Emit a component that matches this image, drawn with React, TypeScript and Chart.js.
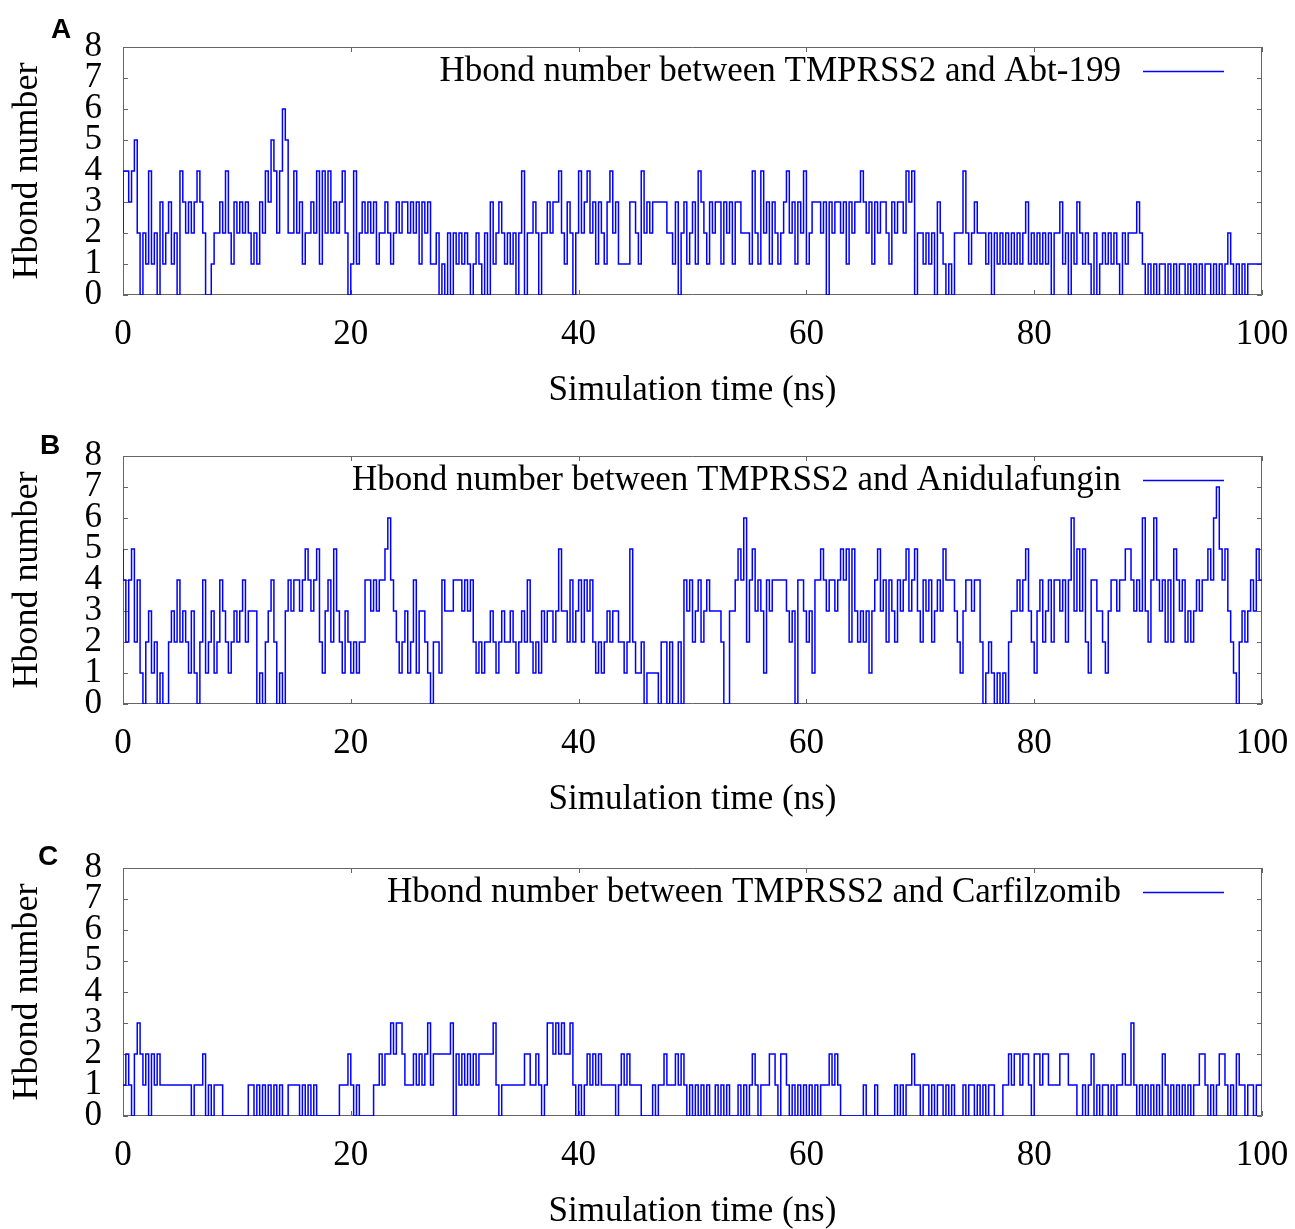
import React, { useEffect, useRef } from 'react';
import { Chart, registerables } from 'chart.js';

Chart.register(...registerables);

// ---------------- data ----------------
const SAMPLE_STEP_NS = 0.25; // sampling interval of the series below (ns)
const X_TICK_STEP = 20;
const Y_TICK_STEP = 1;
const X_RANGE = [0, 100];
const Y_RANGE = [0, 8];

const SERIES_LABELS = [
  'Hbond number between TMPRSS2 and Abt-199',
  'Hbond number between TMPRSS2 and Anidulafungin',
  'Hbond number between TMPRSS2 and Carfilzomib',
];
const PANEL_LETTERS = ['A', 'B', 'C'];
const X_TITLE = 'Simulation time (ns)';
const Y_TITLE = 'Hbond number';

const HBOND_ABT199 = [
  2,4,4,3,4,5,2,0,2,1,4,1,2,0,3,1,2,3,1,2,
  0,4,3,2,3,2,3,4,3,2,0,0,1,2,2,3,2,4,2,1,
  3,2,3,2,3,2,1,2,1,3,2,4,3,5,4,2,4,6,5,2,
  2,4,2,3,1,2,2,3,2,4,1,4,2,4,2,3,2,3,4,2,
  0,1,4,1,2,3,2,3,2,3,1,2,2,3,2,1,2,3,2,3,
  3,2,3,2,3,1,3,2,3,1,1,2,0,1,0,2,0,2,1,2,
  1,2,1,0,1,2,1,0,2,0,3,1,2,3,2,1,2,1,2,0,
  2,4,0,2,2,3,2,0,2,2,3,2,3,3,4,2,1,3,2,0,
  2,4,2,3,4,2,3,1,3,2,1,3,4,2,3,1,1,1,1,3,
  3,2,1,4,2,3,2,3,3,3,3,3,2,2,1,3,0,2,3,1,
  2,3,1,4,3,2,1,3,2,3,3,1,3,2,3,1,3,3,2,2,
  2,1,4,2,1,4,2,3,1,3,2,1,2,3,4,2,3,1,3,2,
  4,1,2,3,3,3,2,3,0,3,2,3,3,2,3,1,3,2,3,3,
  4,3,2,3,1,3,2,3,3,2,1,3,2,3,3,2,4,3,4,0,
  2,2,1,2,1,2,0,3,2,1,0,1,0,2,2,2,4,2,1,2,
  3,2,2,2,1,2,0,2,1,2,1,2,1,2,1,2,1,2,3,1,
  2,1,2,1,2,1,2,0,2,2,3,1,2,0,2,1,3,2,1,2,
  1,0,2,0,1,2,1,2,1,2,1,0,2,1,2,2,2,3,2,1,
  0,1,0,1,0,1,1,0,1,0,1,0,1,1,0,1,0,1,0,1,
  0,1,1,0,1,0,1,0,1,2,1,0,1,0,1,0,1,1,1,1,
  1,
];

const HBOND_ANIDULAFUNGIN = [
  5,4,2,4,5,2,4,1,0,2,3,1,2,0,1,0,0,2,3,2,
  4,2,3,2,1,3,1,0,2,4,1,2,3,1,2,4,3,2,1,2,
  3,2,3,4,2,3,3,3,0,1,0,2,3,4,2,0,1,0,3,4,
  3,4,4,3,4,5,4,3,4,5,2,1,3,4,2,5,3,2,1,3,
  2,1,2,1,2,2,4,4,3,4,3,4,4,5,6,4,3,2,1,2,
  3,1,2,4,1,3,3,2,1,0,2,2,1,4,3,3,3,4,4,4,
  3,4,3,4,2,1,2,1,2,2,3,2,1,2,3,2,2,3,2,1,
  2,3,2,4,2,1,2,1,3,2,3,3,2,3,5,3,3,2,4,2,
  3,4,2,4,3,4,2,1,2,1,2,3,2,3,3,2,2,1,2,5,
  2,1,1,2,0,1,1,1,1,0,2,2,0,2,0,0,2,0,4,3,
  4,2,3,4,2,3,4,3,3,3,3,2,0,0,3,3,4,5,4,6,
  2,4,5,3,4,3,1,4,3,4,4,4,4,4,3,2,3,0,4,4,
  3,2,3,1,4,4,5,4,3,4,4,3,4,5,4,5,2,5,3,2,
  3,2,3,1,3,4,5,3,4,2,4,3,2,4,3,4,5,3,4,5,
  3,2,4,3,4,2,3,4,3,5,4,4,4,3,2,1,3,4,4,3,
  4,4,2,0,1,2,1,0,1,0,1,0,2,3,3,4,3,4,5,3,
  2,1,3,4,2,3,4,2,4,4,3,4,2,4,6,3,5,3,5,2,
  1,4,4,3,3,2,1,3,4,4,3,4,4,5,5,4,3,4,3,6,
  3,2,4,6,4,3,4,2,4,2,5,4,3,4,2,3,2,3,4,3,
  4,4,5,4,6,7,5,4,5,3,2,1,0,2,3,2,3,4,3,5,
  4,
];

const HBOND_CARFILZOMIB = [
  1,1,2,1,0,2,3,2,1,2,0,2,1,2,1,1,1,1,1,1,
  1,1,1,1,1,0,1,1,1,2,0,1,0,1,1,1,0,0,0,0,
  0,0,0,0,0,1,1,0,1,0,1,0,1,0,1,0,1,0,0,1,
  1,1,1,0,1,0,1,0,1,0,0,0,0,0,0,0,0,1,1,1,
  2,1,0,1,0,0,0,0,0,1,1,2,1,2,2,3,2,3,3,2,
  1,1,1,2,1,2,1,2,3,1,2,2,2,2,2,2,3,0,2,1,
  2,1,2,1,2,1,2,2,2,2,2,3,1,0,1,1,1,1,1,1,
  1,1,2,2,1,1,2,1,0,1,3,3,2,3,2,3,2,2,3,1,
  0,1,0,1,2,1,2,1,2,1,1,1,1,1,0,1,2,1,2,1,
  1,1,1,0,0,0,0,1,0,1,1,2,1,1,1,2,1,2,1,0,
  1,0,1,0,1,0,1,0,0,1,0,1,0,1,0,0,0,1,0,1,
  0,1,2,1,0,1,1,1,2,2,1,0,2,2,1,0,1,0,1,0,
  1,0,1,0,1,0,1,1,1,2,1,2,1,0,0,0,0,0,0,0,
  0,1,0,0,0,1,0,0,0,0,0,0,1,0,1,0,1,1,2,1,
  1,0,1,1,0,1,0,1,1,0,1,0,1,0,0,0,1,0,1,1,
  0,1,0,1,0,1,1,0,0,0,1,1,2,1,2,2,1,2,2,1,
  0,2,2,1,2,2,1,1,1,1,2,2,2,1,1,1,0,0,1,0,
  1,2,0,1,0,1,1,0,1,0,1,1,2,1,1,3,1,0,1,0,
  1,0,1,0,1,0,2,1,0,1,0,1,0,1,0,1,0,1,1,2,
  2,1,0,1,0,1,2,2,1,0,1,0,2,1,1,0,1,1,0,1,
  1,
];

const SERIES_VALUES = [HBOND_ABT199, HBOND_ANIDULAFUNGIN, HBOND_CARFILZOMIB];

// ---------------- layout / style ----------------
const SERIF = "'Liberation Serif', 'Times New Roman', Times, serif";
const FONT_SIZE = 35;
const CANVAS_W = 1295;
const CANVAS_H = 412;
const PANEL_TOPS = [0, 409, 821];
const LETTER_POS = [
  { left: 51, top: 15 },
  { left: 40, top: 431 },
  { left: 38, top: 842 },
];
const LINE_COLOR = '#0000ff';
const FRAME_COLOR = '#666666';
const TICK_LEN = 5;

const framePlugin = {
  id: 'gnuFrame',
  beforeDatasetsDraw(chart: any) {
    const { ctx, chartArea } = chart;
    const { left, right, top, bottom } = chartArea;
    const xs = chart.scales.x;
    const ys = chart.scales.y;
    ctx.save();
    ctx.strokeStyle = FRAME_COLOR;
    ctx.lineWidth = 1;
    ctx.beginPath();
    ctx.rect(Math.round(left) + 0.5, Math.round(top) + 0.5, Math.round(right - left) - 1, Math.round(bottom - top) - 1);
    ctx.stroke();
    ctx.beginPath();
    xs.ticks.forEach((t: any) => {
      const px = Math.round(xs.getPixelForValue(t.value)) + 0.5;
      ctx.moveTo(px, bottom);
      ctx.lineTo(px, bottom - TICK_LEN);
      ctx.moveTo(px, top);
      ctx.lineTo(px, top + TICK_LEN);
    });
    ys.ticks.forEach((t: any) => {
      const py = Math.round(ys.getPixelForValue(t.value)) + 0.5;
      ctx.moveTo(left, py);
      ctx.lineTo(left + TICK_LEN, py);
      ctx.moveTo(right, py);
      ctx.lineTo(right - TICK_LEN, py);
    });
    ctx.stroke();
    ctx.restore();
  },
  afterDatasetsDraw(chart: any) {
    const { ctx, chartArea } = chart;
    const ds = chart.data.datasets[0];
    const y = chartArea.top + 25;
    ctx.save();
    ctx.font = `${FONT_SIZE}px ${SERIF}`;
    ctx.fillStyle = '#000';
    ctx.textAlign = 'right';
    ctx.textBaseline = 'middle';
    ctx.fillText(ds.label, chartArea.right - 141, y);
    ctx.strokeStyle = ds.borderColor;
    ctx.lineWidth = 1.3;
    ctx.beginPath();
    ctx.moveTo(chartArea.right - 119, Math.round(y) - 0.5);
    ctx.lineTo(chartArea.right - 38, Math.round(y) - 0.5);
    ctx.stroke();
    ctx.restore();
  },
};

function Panel({ index }: { index: number }) {
  const ref = useRef<HTMLCanvasElement | null>(null);
  useEffect(() => {
    if (!ref.current) return;
    const values = SERIES_VALUES[index];
    const points = values.map((v, i) => ({ x: i * SAMPLE_STEP_NS, y: v }));
    const font = { family: SERIF, size: FONT_SIZE };
    const chart = new Chart(ref.current, {
      type: 'line',
      data: {
        datasets: [
          {
            label: SERIES_LABELS[index],
            data: points,
            stepped: 'after',
            borderColor: LINE_COLOR,
            borderWidth: 1.5,
            pointRadius: 0,
            fill: false,
          },
        ],
      },
      options: {
        animation: false,
        responsive: false,
        maintainAspectRatio: false,
        events: [],
        layout: { padding: { top: 47, right: 33, left: 0, bottom: 0 } },
        plugins: { legend: { display: false }, tooltip: { enabled: false } },
        scales: {
          x: {
            type: 'linear',
            min: X_RANGE[0],
            max: X_RANGE[1],
            afterFit: (s: any) => {
              s.height = CANVAS_H - 295;
            },
            grid: { display: false, drawTicks: false },
            border: { display: false },
            ticks: {
              stepSize: X_TICK_STEP,
              font: { family: SERIF, size: FONT_SIZE, lineHeight: '70px' },
              color: '#000',
              padding: 5,
              maxRotation: 0,
              autoSkip: false,
            },
            title: { display: true, text: X_TITLE, font, color: '#000', padding: { top: 0, bottom: 0 } },
          },
          y: {
            type: 'linear',
            min: Y_RANGE[0],
            max: Y_RANGE[1],
            afterFit: (s: any) => {
              s.width = 123;
            },
            grid: { display: false, drawTicks: false },
            border: { display: false },
            ticks: { stepSize: Y_TICK_STEP, font, color: '#000', padding: 21, autoSkip: false },
            title: {
              display: true,
              text: Y_TITLE,
              font: { family: SERIF, size: 36 },
              color: '#000',
              padding: { top: 6, bottom: 0 },
            },
          },
        },
      } as any,
      plugins: [framePlugin],
    });
    return () => chart.destroy();
  }, [index]);
  return (
    <canvas
      ref={ref}
      width={CANVAS_W}
      height={CANVAS_H}
      style={{ position: 'absolute', left: 0, top: PANEL_TOPS[index], width: CANVAS_W, height: CANVAS_H }}
    />
  );
}

export default function App() {
  useEffect(() => {
    document.body.style.margin = '0';
    document.body.style.overflow = 'hidden';
  }, []);
  return (
    <div style={{ position: 'relative', width: CANVAS_W, height: 1229, overflow: 'hidden', background: '#fff' }}>
      {PANEL_LETTERS.map((_, i) => (
        <Panel key={i} index={i} />
      ))}
      {PANEL_LETTERS.map((l, i) => (
        <div
          key={'l' + i}
          style={{
            position: 'absolute',
            left: LETTER_POS[i].left,
            top: LETTER_POS[i].top,
            font: "bold 28px 'Liberation Sans', Arial, Helvetica, sans-serif",
            lineHeight: '28px',
            color: '#000',
          }}
        >
          {l}
        </div>
      ))}
    </div>
  );
}
